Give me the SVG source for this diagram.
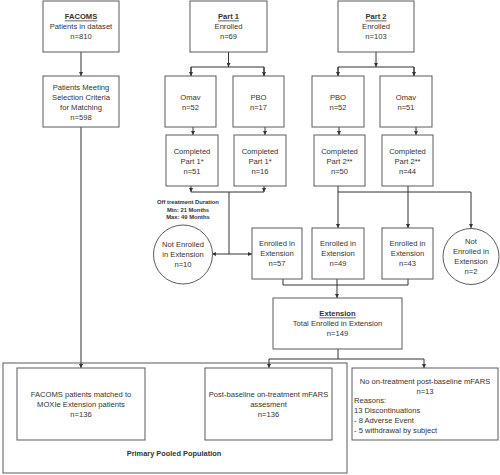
<svg xmlns="http://www.w3.org/2000/svg" width="500" height="475" viewBox="0 0 500 475">
<defs>
<style>
.box{fill:#fff;stroke:#5a5a5a;stroke-width:1}
.ln{fill:none;stroke:#333;stroke-width:1}
.t{font-family:"Liberation Sans",Arial,sans-serif;font-size:7.6px;fill:#333;text-anchor:middle;dominant-baseline:central}
.l{text-anchor:start}
.b{font-weight:bold}
.u{font-weight:bold;text-decoration:underline}
.s{font-size:5.8px;font-weight:bold}
.p{font-size:7.4px;font-weight:bold}
</style>
<marker id="ah" viewBox="0 0 6 6" refX="6" refY="3" markerWidth="4" markerHeight="4" markerUnits="userSpaceOnUse" orient="auto">
<path d="M0,0 L6,3 L0,6 z" fill="#333"/>
</marker>
</defs>
<rect width="500" height="475" fill="#fff"/>

<g id="pooled">
<rect class="box" x="3" y="363" width="344" height="110"/>
<text class="t p" x="174" y="453">Primary Pooled Population</text>
</g>

<g id="connectors">
<line class="ln" x1="81" y1="52" x2="81" y2="76" marker-end="url(#ah)"/>
<line class="ln" x1="81" y1="127" x2="81" y2="368" marker-end="url(#ah)"/>
<line class="ln" x1="228.5" y1="52" x2="228.5" y2="67" marker-end="url(#ah)"/>
<polyline class="ln" points="191,76 191,67 264,67 264,76"/>
<line class="ln" x1="191" y1="67" x2="191" y2="76" marker-end="url(#ah)"/>
<line class="ln" x1="264" y1="67" x2="264" y2="76" marker-end="url(#ah)"/>
<line class="ln" x1="376" y1="52" x2="376" y2="67" marker-end="url(#ah)"/>
<polyline class="ln" points="338,76 338,67 414,67 414,76"/>
<line class="ln" x1="338" y1="67" x2="338" y2="76" marker-end="url(#ah)"/>
<line class="ln" x1="414" y1="67" x2="414" y2="76" marker-end="url(#ah)"/>
<line class="ln" x1="193" y1="127" x2="193" y2="135" marker-end="url(#ah)"/>
<line class="ln" x1="265" y1="127" x2="265" y2="135" marker-end="url(#ah)"/>
<line class="ln" x1="339" y1="127" x2="339" y2="135" marker-end="url(#ah)"/>
<line class="ln" x1="416" y1="127" x2="416" y2="135" marker-end="url(#ah)"/>
<line class="ln" x1="191" y1="186" x2="191" y2="192" marker-end="url(#ah)"/>
<line class="ln" x1="264" y1="186" x2="264" y2="192" marker-end="url(#ah)"/>
<line class="ln" x1="191" y1="192" x2="264" y2="192"/>
<line class="ln" x1="229" y1="192" x2="229" y2="254"/>
<line class="ln" x1="229" y1="254" x2="212" y2="254" marker-end="url(#ah)"/>
<line class="ln" x1="229" y1="254" x2="252" y2="254" marker-end="url(#ah)"/>
<line class="ln" x1="338" y1="186" x2="338" y2="192"/>
<line class="ln" x1="408" y1="186" x2="408" y2="192"/>
<line class="ln" x1="338" y1="192" x2="471" y2="192"/>
<line class="ln" x1="338" y1="192" x2="338" y2="228" marker-end="url(#ah)"/>
<line class="ln" x1="408" y1="192" x2="408" y2="228" marker-end="url(#ah)"/>
<line class="ln" x1="471" y1="192" x2="471" y2="228" marker-end="url(#ah)"/>
<polyline class="ln" points="283,279 283,285 408,285 408,279"/>
<line class="ln" x1="337" y1="279" x2="337" y2="298" marker-end="url(#ah)"/>
<line class="ln" x1="338" y1="349" x2="338" y2="359"/>
<line class="ln" x1="269" y1="359" x2="424" y2="359"/>
<line class="ln" x1="269" y1="359" x2="269" y2="368" marker-end="url(#ah)"/>
<line class="ln" x1="424" y1="359" x2="424" y2="368" marker-end="url(#ah)"/>
</g>

<g id="facoms">
<rect class="box" x="43" y="1" width="76" height="51"/>
<text class="t u" x="81" y="16">FACOMS</text>
<text class="t" x="81" y="26">Patients in dataset</text>
<text class="t" x="81" y="36">n=810</text>
</g>
<g id="selection">
<rect class="box" x="43" y="76" width="76" height="51"/>
<text class="t" x="81" y="87">Patients Meeting</text>
<text class="t" x="81" y="97">Selection Criteria</text>
<text class="t" x="81" y="107">for Matching</text>
<text class="t" x="81" y="117">n=598</text>
</g>
<g id="part1">
<rect class="box" x="190" y="1" width="77" height="51"/>
<text class="t u" x="228.5" y="16">Part 1</text>
<text class="t" x="228.5" y="26">Enrolled</text>
<text class="t" x="228.5" y="36">n=69</text>
</g>
<g id="part2">
<rect class="box" x="338" y="1" width="76" height="51"/>
<text class="t u" x="376" y="16">Part 2</text>
<text class="t" x="376" y="26">Enrolled</text>
<text class="t" x="376" y="36">n=103</text>
</g>
<g id="omav1">
<rect class="box" x="165" y="76" width="51" height="51"/>
<text class="t" x="190.5" y="97">Omav</text>
<text class="t" x="190.5" y="107">n=52</text>
</g>
<g id="pbo1">
<rect class="box" x="233" y="76" width="51" height="51"/>
<text class="t" x="258.5" y="97">PBO</text>
<text class="t" x="258.5" y="107">n=17</text>
</g>
<g id="pbo2">
<rect class="box" x="312" y="76" width="52" height="51"/>
<text class="t" x="338" y="97">PBO</text>
<text class="t" x="338" y="107">n=52</text>
</g>
<g id="omav2">
<rect class="box" x="380" y="76" width="52" height="51"/>
<text class="t" x="406" y="97">Omav</text>
<text class="t" x="406" y="107">n=51</text>
</g>
<g id="comp1a">
<rect class="box" x="166" y="135" width="52" height="51"/>
<text class="t" x="192" y="151">Completed</text>
<text class="t" x="192" y="161">Part 1*</text>
<text class="t" x="192" y="171">n=51</text>
</g>
<g id="comp1b">
<rect class="box" x="234" y="135" width="52" height="51"/>
<text class="t" x="260" y="151">Completed</text>
<text class="t" x="260" y="161">Part 1*</text>
<text class="t" x="260" y="171">n=16</text>
</g>
<g id="comp2a">
<rect class="box" x="314" y="135" width="51" height="51"/>
<text class="t" x="339.5" y="151">Completed</text>
<text class="t" x="339.5" y="161">Part 2**</text>
<text class="t" x="339.5" y="171">n=50</text>
</g>
<g id="comp2b">
<rect class="box" x="382" y="135" width="51" height="51"/>
<text class="t" x="407.5" y="151">Completed</text>
<text class="t" x="407.5" y="161">Part 2**</text>
<text class="t" x="407.5" y="171">n=44</text>
</g>
<g id="offtreat">
<text class="t s" x="188" y="202">Off treatment Duration</text>
<text class="t s" x="188" y="209.5">Min: 21 Months</text>
<text class="t s" x="188" y="217">Max: 49 Months</text>
</g>
<g id="notenrolled10">
<circle class="box" cx="183" cy="254.5" r="29.5"/>
<text class="t" x="183" y="244">Not Enrolled</text>
<text class="t" x="183" y="254">in Extension</text>
<text class="t" x="183" y="264">n=10</text>
</g>
<g id="enr57">
<rect class="box" x="252" y="228" width="50" height="51"/>
<text class="t" x="277" y="243">Enrolled in</text>
<text class="t" x="277" y="253">Extension</text>
<text class="t" x="277" y="263">n=57</text>
</g>
<g id="enr49">
<rect class="box" x="312" y="228" width="52" height="51"/>
<text class="t" x="338" y="243">Enrolled in</text>
<text class="t" x="338" y="253">Extension</text>
<text class="t" x="338" y="263">n=49</text>
</g>
<g id="enr43">
<rect class="box" x="382" y="228" width="51" height="51"/>
<text class="t" x="407.5" y="243">Enrolled in</text>
<text class="t" x="407.5" y="253">Extension</text>
<text class="t" x="407.5" y="263">n=43</text>
</g>
<g id="notenrolled2">
<circle class="box" cx="471" cy="256.5" r="28"/>
<text class="t" x="471" y="241">Not</text>
<text class="t" x="471" y="251">Enrolled in</text>
<text class="t" x="471" y="261">Extension</text>
<text class="t" x="471" y="271">n=2</text>
</g>
<g id="extension">
<rect class="box" x="273" y="298" width="129" height="51"/>
<text class="t u" x="337.5" y="313">Extension</text>
<text class="t" x="337.5" y="323">Total Enrolled in Extension</text>
<text class="t" x="337.5" y="333">n=149</text>
</g>
<g id="matched">
<rect class="box" x="17" y="368" width="128" height="72"/>
<text class="t" x="81" y="394">FACOMS patients matched to</text>
<text class="t" x="81" y="404">MOXIe Extension patients</text>
<text class="t" x="81" y="414">n=136</text>
</g>
<g id="postbaseline">
<rect class="box" x="205" y="368" width="127" height="72"/>
<text class="t" x="268.5" y="394">Post-baseline on-treatment mFARS</text>
<text class="t" x="268.5" y="404">assesment</text>
<text class="t" x="268.5" y="414">n=136</text>
</g>
<g id="nopost">
<rect class="box" x="352" y="368" width="146" height="72"/>
<text class="t" x="425" y="381">No on-treatment post-baseline mFARS</text>
<text class="t" x="425" y="391">n=13</text>
<text class="t l" x="354" y="400">Reasons:</text>
<text class="t l" x="354" y="410">13 Discontinuations</text>
<text class="t l" x="354" y="420">- 8 Adverse Event</text>
<text class="t l" x="354" y="430">- 5 withdrawal by subject</text>
</g>
</svg>
